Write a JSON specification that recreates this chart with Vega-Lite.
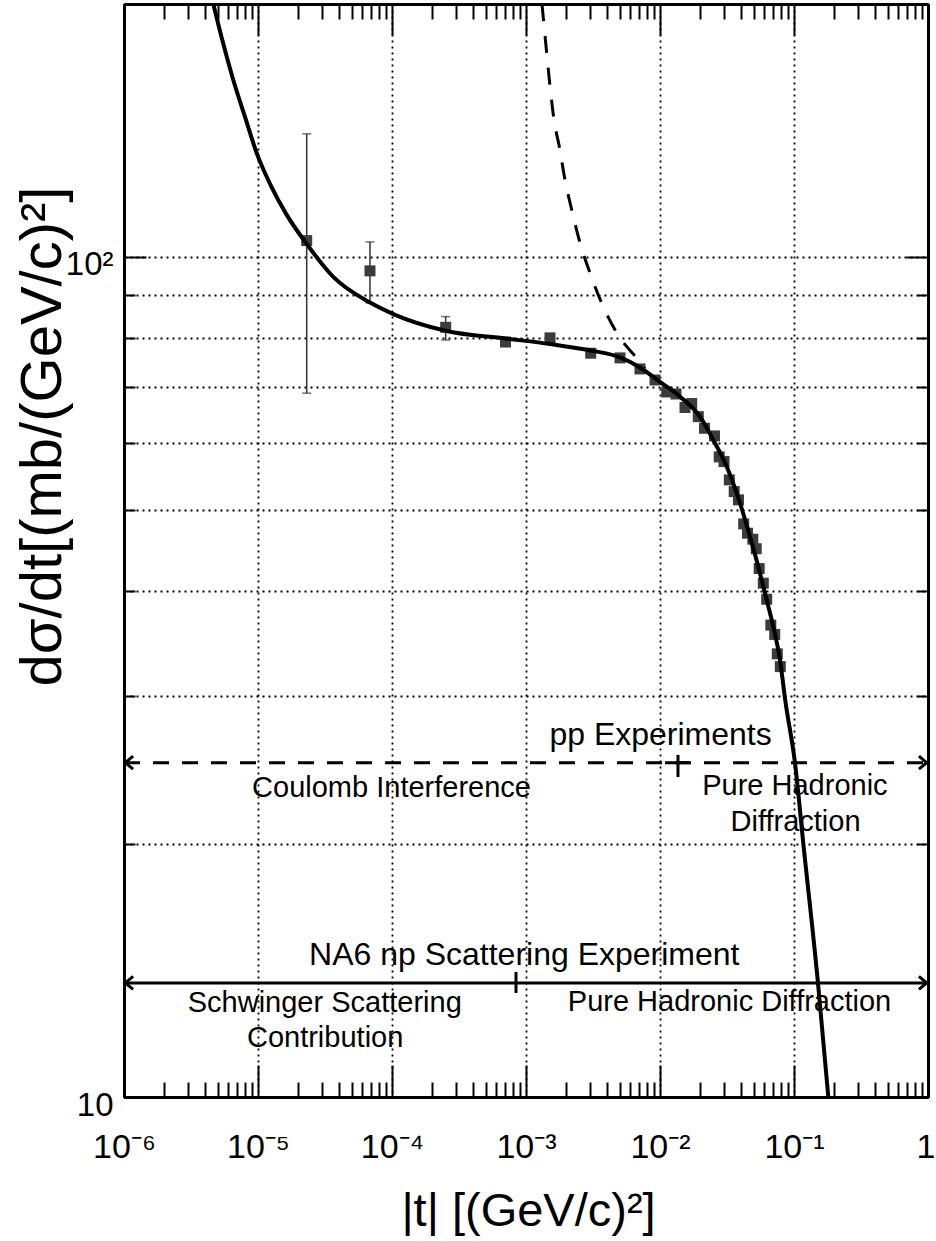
{
  "$schema": "https://vega.github.io/schema/vega-lite/v6.json",
  "width": 804,
  "height": 1093,
  "autosize": {"type": "none"},
  "padding": {"left": 124, "top": 4, "right": 8, "bottom": 144},
  "background": "white",
  "config": {
    "view": {"stroke": null},
    "axis": {
      "domainColor": "#000", "domainWidth": 3,
      "tickColor": "#000", "tickWidth": 2,
      "gridColor": "#000", "gridDash": [2, 4], "gridWidth": 1.8, "gridOpacity": 1,
      "labelFont": "Liberation Sans", "labelColor": "#000",
      "titleFont": "Liberation Sans", "titleColor": "#000", "titleFontWeight": "normal",
      "labelFlush": false, "labelOverlap": false, "labelBound": false
    }
  },
  "resolve": {"axis": {"x": "independent", "y": "independent"}},
  "datasets": {
    "points": [
      {"t": 2.309e-5, "v": 104.57}, {"t": 6.85e-5, "v": 96.24}, {"t": 2.516e-4, "v": 82.45},
      {"t": 7.03e-4, "v": 79.19}, {"t": 1.511e-3, "v": 80.1}, {"t": 3.04e-3, "v": 76.8},
      {"t": 5.03e-3, "v": 75.82}, {"t": 7.09e-3, "v": 73.56}, {"t": 9.18e-3, "v": 71.37},
      {"t": 0.01122, "v": 69.06}, {"t": 0.01316, "v": 68.68}, {"t": 0.01537, "v": 66.18},
      {"t": 0.01724, "v": 66.91}, {"t": 0.01931, "v": 64.54}, {"t": 0.02148, "v": 62.52},
      {"t": 0.02551, "v": 61.22}, {"t": 0.02766, "v": 57.8}, {"t": 0.03003, "v": 57.06},
      {"t": 0.03291, "v": 54.27}, {"t": 0.03579, "v": 52.56}, {"t": 0.03853, "v": 51.38},
      {"t": 0.04213, "v": 48.1}, {"t": 0.04498, "v": 46.89}, {"t": 0.04926, "v": 46.13},
      {"t": 0.05223, "v": 44.94}, {"t": 0.05499, "v": 42.56}, {"t": 0.05901, "v": 40.89},
      {"t": 0.06256, "v": 39.13}, {"t": 0.06713, "v": 36.45}, {"t": 0.07178, "v": 35.53},
      {"t": 0.07506, "v": 33.69}, {"t": 0.07903, "v": 32.53}
    ],
    "errors": [
      {"t": 2.309e-5, "lo": 68.83, "hi": 140.1},
      {"t": 6.85e-5, "lo": 88.15, "hi": 104.2},
      {"t": 2.516e-4, "lo": 79.63, "hi": 84.9}
    ],
    "fit": [
      {"t": 4.64e-6, "v": 200}, {"t": 5.434e-6, "v": 180.8}, {"t": 6.54e-6, "v": 162.4},
      {"t": 7.998e-6, "v": 146.8}, {"t": 9.78e-6, "v": 132.9}, {"t": 1.25e-5, "v": 121.5},
      {"t": 1.638e-5, "v": 112.2}, {"t": 2.309e-5, "v": 103.6}, {"t": 3.646e-5, "v": 94.67},
      {"t": 6.85e-5, "v": 88.23}, {"t": 1.023e-4, "v": 85.5}, {"t": 2.559e-4, "v": 81.62},
      {"t": 7.056e-4, "v": 79.96}, {"t": 1.511e-3, "v": 78.76}, {"t": 3.04e-3, "v": 77.37},
      {"t": 5.03e-3, "v": 75.93}, {"t": 7.09e-3, "v": 73.86}, {"t": 0.01, "v": 70.98},
      {"t": 0.0141, "v": 68.18}, {"t": 0.01988, "v": 64.54}, {"t": 0.02499, "v": 60.55},
      {"t": 0.03146, "v": 56.29}, {"t": 0.03954, "v": 50.91}, {"t": 0.04694, "v": 46.46},
      {"t": 0.05575, "v": 42.03}, {"t": 0.06256, "v": 39.05}, {"t": 0.07006, "v": 36.3},
      {"t": 0.07861, "v": 33.14}, {"t": 0.0862, "v": 29.6}, {"t": 0.1017, "v": 24.99},
      {"t": 0.1173, "v": 20.05}, {"t": 0.151, "v": 13.67}, {"t": 0.1803, "v": 10}
    ],
    "coulomb": [
      {"t": 1.316e-3, "v": 200}, {"t": 1.427e-3, "v": 174.9}, {"t": 1.511e-3, "v": 159.5},
      {"t": 1.618e-3, "v": 145.6}, {"t": 1.772e-3, "v": 135.3}, {"t": 1.954e-3, "v": 123.5},
      {"t": 2.193e-3, "v": 113.8}, {"t": 2.529e-3, "v": 103.9}, {"t": 3.004e-3, "v": 95.7},
      {"t": 3.672e-3, "v": 88.1}, {"t": 4.615e-3, "v": 81.9}, {"t": 5.179e-3, "v": 79.6},
      {"t": 6.7e-3, "v": 75.8}, {"t": 7.73e-3, "v": 73.7}
    ],
    "arrows": [
      {"x1": 1e-6, "x2": 1, "v": 25, "style": "dashed"},
      {"x1": 1e-6, "x2": 1, "v": 13.67, "style": "solid"},
      {"x1": 0.0109, "x2": 0.01675, "v": 25, "style": "solid"}
    ],
    "heads": [
      {"t": 1e-6, "v": 25, "dir": "L"}, {"t": 1, "v": 25, "dir": "R"},
      {"t": 1e-6, "v": 13.67, "dir": "L"}, {"t": 1, "v": 13.67, "dir": "R"}
    ],
    "dividers": [
      {"t": 0.01362, "lo": 24.04, "hi": 25.54},
      {"t": 8.42e-4, "lo": 13.3, "hi": 14.09}
    ],
    "experiments": [
      {"t": 0.0101, "v": 26.24, "text": "pp Experiments"},
      {"t": 9.71e-4, "v": 14.36, "text": "NA6 np Scattering Experiment"}
    ],
    "regions": [
      {"t": 9.92e-5, "v": 22.74, "text": "Coulomb Interference"},
      {"t": 0.1016, "v": 22.88, "text": "Pure Hadronic"},
      {"t": 0.1027, "v": 20.75, "text": "Diffraction"},
      {"t": 3.15e-5, "v": 12.64, "text": "Schwinger Scattering"},
      {"t": 3.17e-5, "v": 11.48, "text": "Contribution"},
      {"t": 0.03302, "v": 12.67, "text": "Pure Hadronic Diffraction"}
    ]
  },
  "layer": [
    {
      "data": {"name": "errors"},
      "mark": {"type": "rule", "color": "#333", "strokeWidth": 1.5},
      "encoding": {
        "x": {"field": "t", "type": "quantitative", "scale": {"type": "log", "domain": [1e-6, 1], "nice": false},
          "axis": {"orient": "bottom", "title": null, "labels": false, "grid": false, "ticks": true, "tickSize": -15,
            "values": [2e-6,3e-6,4e-6,5e-6,6e-6,7e-6,8e-6,9e-6,2e-5,3e-5,4e-5,5e-5,6e-5,7e-5,8e-5,9e-5,2e-4,3e-4,4e-4,5e-4,6e-4,7e-4,8e-4,9e-4,0.002,0.003,0.004,0.005,0.006,0.007,0.008,0.009,0.02,0.03,0.04,0.05,0.06,0.07,0.08,0.09,0.2,0.3,0.4,0.5,0.6,0.7,0.8,0.9]}},
        "y": {"field": "lo", "type": "quantitative", "scale": {"type": "log", "domain": [10, 200], "nice": false},
          "axis": {"orient": "left", "title": null, "labels": false, "grid": false, "ticks": true, "tickSize": -11,
            "values": [20, 30, 40, 50, 60, 70, 80, 90]}},
        "y2": {"field": "hi"}
      }
    },
    {
      "data": {"name": "errors"},
      "transform": [{"fold": ["lo", "hi"], "as": ["end", "v"]}],
      "mark": {"type": "tick", "orient": "horizontal", "size": 9, "thickness": 1.5, "color": "#333"},
      "encoding": {
        "x": {"field": "t", "type": "quantitative", "scale": {"type": "log", "domain": [1e-6, 1], "nice": false}, "axis": null},
        "y": {"field": "v", "type": "quantitative", "scale": {"type": "log", "domain": [10, 200], "nice": false}, "axis": null}
      }
    },
    {
      "data": {"name": "points"},
      "mark": {"type": "point", "shape": "square", "filled": true, "size": 121, "color": "#3c3c3c", "opacity": 1},
      "encoding": {
        "x": {"field": "t", "type": "quantitative", "scale": {"type": "log", "domain": [1e-6, 1], "nice": false},
          "axis": {"orient": "top", "title": null, "labels": false, "grid": false, "ticks": true, "tickSize": -31,
            "values": [1e-6, 1e-5, 1e-4, 0.001, 0.01, 0.1, 1]}},
        "y": {"field": "v", "type": "quantitative", "scale": {"type": "log", "domain": [10, 200], "nice": false},
          "axis": {"orient": "right", "title": null, "labels": false, "grid": false, "ticks": true, "tickSize": -22,
            "values": [100]}}
      }
    },
    {
      "data": {"name": "coulomb"},
      "mark": {"type": "line", "color": "#000", "strokeWidth": 3, "strokeDash": [17, 15], "interpolate": "monotone", "clip": true},
      "encoding": {
        "x": {"field": "t", "type": "quantitative", "scale": {"type": "log", "domain": [1e-6, 1], "nice": false},
          "axis": {"orient": "top", "title": null, "labels": false, "grid": false, "ticks": true, "tickSize": -15,
            "values": [2e-6,3e-6,4e-6,5e-6,6e-6,7e-6,8e-6,9e-6,2e-5,3e-5,4e-5,5e-5,6e-5,7e-5,8e-5,9e-5,2e-4,3e-4,4e-4,5e-4,6e-4,7e-4,8e-4,9e-4,0.002,0.003,0.004,0.005,0.006,0.007,0.008,0.009,0.02,0.03,0.04,0.05,0.06,0.07,0.08,0.09,0.2,0.3,0.4,0.5,0.6,0.7,0.8,0.9]}},
        "y": {"field": "v", "type": "quantitative", "scale": {"type": "log", "domain": [10, 200], "nice": false},
          "axis": {"orient": "right", "title": null, "labels": false, "grid": false, "ticks": true, "tickSize": -11,
            "values": [20, 30, 40, 50, 60, 70, 80, 90]}}
      }
    },
    {
      "data": {"name": "fit"},
      "mark": {"type": "line", "color": "#000", "strokeWidth": 4, "interpolate": "monotone", "clip": true},
      "encoding": {
        "x": {"field": "t", "type": "quantitative", "scale": {"type": "log", "domain": [1e-6, 1], "nice": false},
          "axis": {"orient": "bottom", "values": [1e-6, 1e-5, 1e-4, 0.001, 0.01, 0.1, 1], "grid": true, "ticks": false,
            "labelExpr": "datum.value < 3e-6 ? '10⁻⁶' : datum.value < 3e-5 ? '10⁻⁵' : datum.value < 3e-4 ? '10⁻⁴' : datum.value < 3e-3 ? '10⁻³' : datum.value < 3e-2 ? '10⁻²' : datum.value < 0.3 ? '10⁻¹' : '1'",
            "labelFontSize": 34, "labelPadding": 33,
            "labelAlign": {"condition": {"test": "datum.value == 1", "value": "right"}, "value": "center"},
            "labelOffset": {"condition": {"test": "datum.value == 1", "value": 7}, "value": 0},
            "title": "|t| [(GeV/c)²]", "titleFontSize": 47, "titleX": 404, "titleY": 128, "titleAlign": "center", "titleBaseline": "alphabetic"}},
        "y": {"field": "v", "type": "quantitative", "scale": {"type": "log", "domain": [10, 200], "nice": false},
          "axis": {"orient": "left", "values": [10, 20, 30, 40, 50, 60, 70, 80, 90, 100], "grid": true, "ticks": false,
            "labelExpr": "datum.value == 10 ? '10' : datum.value == 100 ? '10²' : ''",
            "labelFontSize": 33, "labelPadding": 11, "labelOffset": 8,
            "title": "dσ/dt[(mb/(GeV/c)²]", "titleFontSize": 58, "titleAngle": 270, "titleX": -64, "titleY": 432, "titleAlign": "center", "titleBaseline": "alphabetic"}}
      }
    },
    {
      "data": {"name": "arrows"},
      "mark": {"type": "rule", "color": "#000", "strokeWidth": 3},
      "encoding": {
        "x": {"field": "x1", "type": "quantitative", "scale": {"type": "log", "domain": [1e-6, 1], "nice": false},
          "axis": {"orient": "bottom", "title": null, "labels": false, "grid": false, "ticks": true, "tickSize": -32,
            "values": [1e-6, 1e-5, 1e-4, 0.001, 0.01, 0.1, 1]}},
        "x2": {"field": "x2"},
        "y": {"field": "v", "type": "quantitative", "scale": {"type": "log", "domain": [10, 200], "nice": false},
          "axis": {"orient": "left", "title": null, "labels": false, "grid": false, "ticks": true, "tickSize": -22,
            "values": [100]}},
        "strokeDash": {"field": "style", "type": "nominal", "scale": {"domain": ["dashed", "solid"], "range": [[16, 13], [1, 0]]}, "legend": null}
      }
    },
    {
      "data": {"name": "heads"},
      "mark": {"type": "point", "filled": false, "size": 169, "strokeWidth": 3, "color": "#000", "opacity": 1, "strokeJoin": "miter"},
      "encoding": {
        "x": {"field": "t", "type": "quantitative", "scale": {"type": "log", "domain": [1e-6, 1], "nice": false}, "axis": null},
        "y": {"field": "v", "type": "quantitative", "scale": {"type": "log", "domain": [10, 200], "nice": false}, "axis": null},
        "shape": {"field": "dir", "type": "nominal", "scale": {"domain": ["L", "R"], "range": ["M1.4,-1L0.2,0L1.4,1", "M-1.4,-1L-0.2,0L-1.4,1"]}, "legend": null}
      }
    },
    {
      "data": {"name": "dividers"},
      "mark": {"type": "rule", "color": "#000", "strokeWidth": 3},
      "encoding": {
        "x": {"field": "t", "type": "quantitative", "scale": {"type": "log", "domain": [1e-6, 1], "nice": false}, "axis": null},
        "y": {"field": "lo", "type": "quantitative", "scale": {"type": "log", "domain": [10, 200], "nice": false}, "axis": null},
        "y2": {"field": "hi"}
      }
    },
    {
      "data": {"name": "experiments"},
      "mark": {"type": "text", "font": "Liberation Sans", "fontSize": 32, "align": "center", "baseline": "alphabetic", "color": "#000"},
      "encoding": {
        "x": {"field": "t", "type": "quantitative", "scale": {"type": "log", "domain": [1e-6, 1], "nice": false}, "axis": null},
        "y": {"field": "v", "type": "quantitative", "scale": {"type": "log", "domain": [10, 200], "nice": false}, "axis": null},
        "text": {"field": "text"}
      }
    },
    {
      "data": {"name": "regions"},
      "mark": {"type": "text", "font": "Liberation Sans", "fontSize": 29, "align": "center", "baseline": "alphabetic", "color": "#000"},
      "encoding": {
        "x": {"field": "t", "type": "quantitative", "scale": {"type": "log", "domain": [1e-6, 1], "nice": false}, "axis": null},
        "y": {"field": "v", "type": "quantitative", "scale": {"type": "log", "domain": [10, 200], "nice": false}, "axis": null},
        "text": {"field": "text"}
      }
    }
  ]
}
